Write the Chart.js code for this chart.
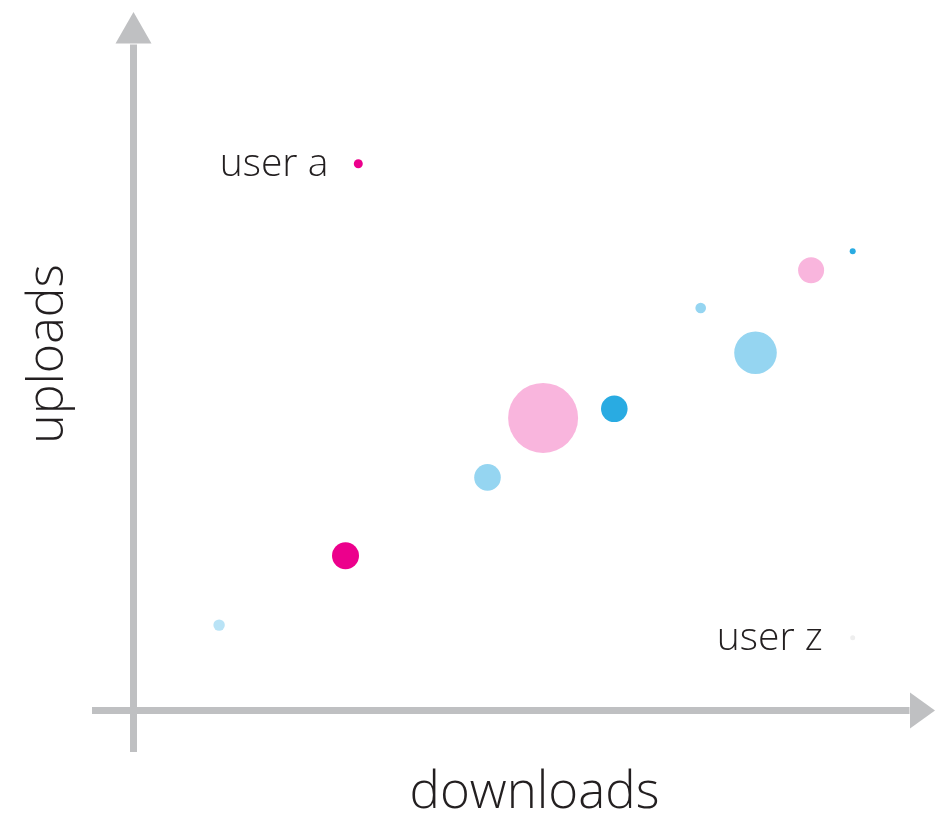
<!DOCTYPE html>
<html lang="en">
<head>
<meta charset="utf-8">
<title>downloads / uploads</title>
<script src="https://cdn.jsdelivr.net/npm/chart.js@4/dist/chart.umd.min.js"></script>
<style>
    html, body {
        margin: 0;
        padding: 0;
        background: #ffffff;
    }
    #wrap {
        position: relative;
        width: 935px;
        height: 814px;
    }
</style>
</head>
<body>
<div id="wrap">
    <canvas id="usersChart"></canvas>
</div>
<script>
// ユーザーごとの値
const userNames = ['user a', '', '', '', '', '', '', '', '', '', 'user z'];
const downloads = [28.1, 89.9, 84.7, 70.9, 77.75, 51.2, 60.1, 44.25, 26.5, 10.7, 89.9];
const uploads   = [78.1, 65.6, 62.9, 57.5, 51.1, 41.8, 43.1, 33.3, 22.1, 12.2, 10.4];
const sizes     = [4.5, 3, 13, 5.3, 21.3, 35, 13.3, 13.3, 13.5, 5.7, 2.5];

// 軸ラベル
const xTitle = 'downloads';
const yTitle = 'uploads';

// 色
const MAGENTA = '#ec008c';
const BLUE = '#29abe2';
const LIGHT_BLUE = '#95d5f1';
const PALE_BLUE = '#b9e3f6';
const PINK = '#f9b5dd';
const GREY_DOT = '#eeeeee';
const pointColors = [MAGENTA, BLUE, PINK, LIGHT_BLUE, LIGHT_BLUE, PINK, BLUE, LIGHT_BLUE, MAGENTA, PALE_BLUE, GREY_DOT];

const AXIS_COLOR = '#bfc0c2';
const TEXT_COLOR = '#231f20';
const FONT = '"Open Sans", "DejaVu Sans", sans-serif';

/**
 * 矢印付きの軸と文字を描くプラグイン
 */
const arrowAxes = {
    id: 'arrowAxes',
    beforeDatasetsDraw(chart) {
        const { ctx, chartArea, scales } = chart;
        const x0 = scales.x.getPixelForValue(0);
        const y0 = scales.y.getPixelForValue(0);
        const overhang = 41.5;

        ctx.save();
        ctx.strokeStyle = AXIS_COLOR;
        ctx.fillStyle = AXIS_COLOR;
        ctx.lineWidth = 7;

        // 縦軸
        ctx.beginPath();
        ctx.moveTo(x0, y0 + overhang);
        ctx.lineTo(x0, chartArea.top + 34);
        ctx.stroke();
        ctx.beginPath();
        ctx.moveTo(x0, chartArea.top + 1.5);
        ctx.lineTo(x0 + 18, chartArea.top + 33);
        ctx.lineTo(x0 - 18, chartArea.top + 33);
        ctx.closePath();
        ctx.fill();

        // 横軸
        ctx.beginPath();
        ctx.moveTo(x0 - overhang, y0);
        ctx.lineTo(chartArea.right - 24, y0);
        ctx.stroke();
        ctx.beginPath();
        ctx.moveTo(chartArea.right + 1.5, y0);
        ctx.lineTo(chartArea.right - 23.5, y0 - 18);
        ctx.lineTo(chartArea.right - 23.5, y0 + 18);
        ctx.closePath();
        ctx.fill();

        // 軸タイトル
        ctx.fillStyle = TEXT_COLOR;
        ctx.textAlign = 'center';
        ctx.textBaseline = 'alphabetic';
        ctx.font = `300 51px ${FONT}`;
        ctx.fillText(xTitle, (chartArea.left + chartArea.right) / 2 + 1, 808);

        ctx.font = `300 50px ${FONT}`;
        ctx.translate(63, 354);
        ctx.rotate(-Math.PI / 2);
        ctx.fillText(yTitle, 0, 0);
        ctx.restore();
    },
    afterDatasetsDraw(chart) {
        const { ctx } = chart;
        const meta = chart.getDatasetMeta(0);

        // 点の左側に名前
        ctx.save();
        ctx.fillStyle = TEXT_COLOR;
        ctx.font = `300 39px ${FONT}`;
        ctx.textAlign = 'right';
        ctx.textBaseline = 'alphabetic';
        meta.data.forEach((pt, i) => {
            if (!userNames[i]) return;
            ctx.fillText(userNames[i], pt.x - 30, pt.y + 12.5);
        });
        ctx.restore();
    },
};

const points = downloads.map((d, i) => ({ x: d, y: uploads[i], r: sizes[i] }));

new Chart(document.getElementById('usersChart'), {
    type: 'bubble',
    data: {
        datasets: [{
            label: 'users',
            data: points,
            backgroundColor: pointColors,
            borderWidth: 0,
            hoverRadius: 0,
            clip: false,
        }],
    },
    options: {
        responsive: true,
        maintainAspectRatio: false,
        animation: false,
        events: [],
        layout: {
            autoPadding: false,
            padding: { left: 133.5, right: 1.5, top: 10.5, bottom: 103.5 },
        },
        plugins: {
            legend: { display: false },
            tooltip: { enabled: false },
        },
        scales: {
            x: { type: 'linear', min: 0, max: 100, display: false },
            y: { type: 'linear', min: 0, max: 100, display: false },
        },
    },
    plugins: [arrowAxes],
});
</script>
</body>
</html>
